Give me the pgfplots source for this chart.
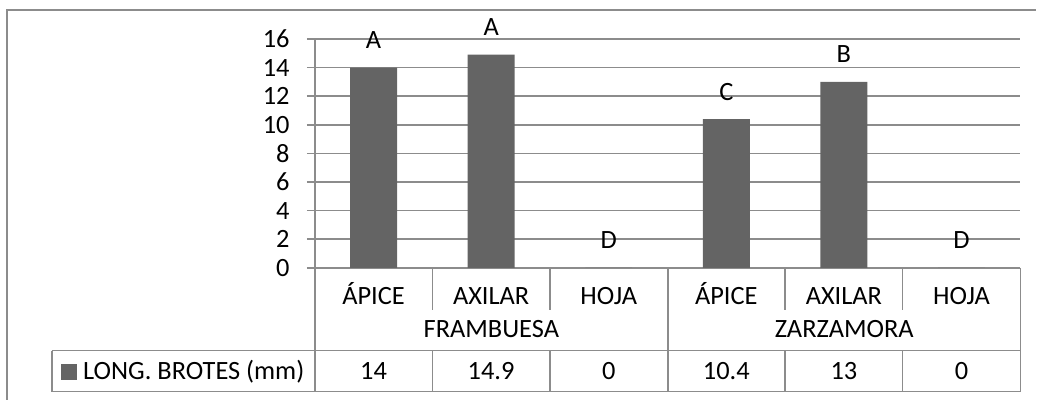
\documentclass[border=0pt]{standalone}
\usepackage{pgfplots}
\pgfplotsset{compat=1.18}
\usepackage{fontspec}
\setmainfont{Carlito}
\definecolor{barcol}{HTML}{646464}
\definecolor{gridcol}{HTML}{8C8C8C}
\newcommand{\cf}{\fontsize{19.8pt}{23pt}\selectfont}

\begin{document}
\begin{tikzpicture}
\begin{axis}[
    at={(0,0)}, anchor=south west,
    scale only axis, width=529.5pt, height=171.75pt,
    ybar, bar width=35.25pt,
    xmin=-0.5, xmax=5.5, ymin=0, ymax=16,
    ytick={0,2,...,16},
    xtick={0,...,5},
    xticklabels={ÁPICE,AXILAR,HOJA,ÁPICE,AXILAR,HOJA},
    axis x line*=bottom, axis y line*=left,
    axis line style={draw=gridcol, line width=1.1pt},
    ymajorgrids, grid style={draw=gridcol, line width=1.1pt},
    xtick style={draw=none},
    ytick style={draw=gridcol, line width=1.1pt},
    tick align=outside, major tick length=6pt,
    /pgf/number format/assume math mode=true,
    ticklabel style={font=\cf},
    yticklabel style={anchor=east, inner sep=0pt, xshift=-12.75pt},
    xticklabel style={anchor=base, inner sep=0pt, yshift=-21.75pt},
    nodes near coords, point meta=explicit symbolic,
    every node near coord/.append style={anchor=base, yshift=14.25pt, font=\cf, black},
    clip=false,
]
% longitud de brotes (mm)
\addplot[fill=barcol, draw=none] coordinates {
    (0,14) [A] (1,14.9) [A] (2,0) [D] (3,10.4) [C] (4,13) [B] (5,0) [D]
};
\end{axis}
% tabla de datos debajo (coordenadas en px de la imagen)
\begin{scope}[shift={(-236.25pt,201pt)}, x=0.75pt, y=-0.75pt]
  \path (0,0) rectangle (1037,400);
  \draw[gridcol, line width=1.1pt] (7,400)--(7,10)--(1037,10);
  \draw[gridcol, line width=1.1pt] (315,268)--(315,392)
      (52,351)--(1021,351) (52,392)--(1021,392) (52,351)--(52,392)
      (668.33,268)--(668.33,392) (1021,268)--(1021,392);
  \foreach \k in {1,2,4,5} {
    \pgfmathsetmacro\xx{315+117.667*\k}
    \draw[gridcol, line width=1.1pt] (\xx,268)--(\xx,310) (\xx,351)--(\xx,392);
  }
  \node[font=\cf, anchor=base] at (491.7,338) {FRAMBUESA};
  \node[font=\cf, anchor=base] at (844.8,338) {ZARZAMORA};
  \fill[barcol] (61,364) rectangle (77,380);
  \node[font=\cf, anchor=base west, inner sep=0pt] at (83,380) {LONG. BROTES (mm)};
  \foreach \v [count=\i from 0] in {14,14.9,0,10.4,13,0} {
    \node[font=\cf, anchor=base] at (373.8+117.667*\i,380) {\v};
  }
\end{scope}
\end{tikzpicture}
\end{document}
